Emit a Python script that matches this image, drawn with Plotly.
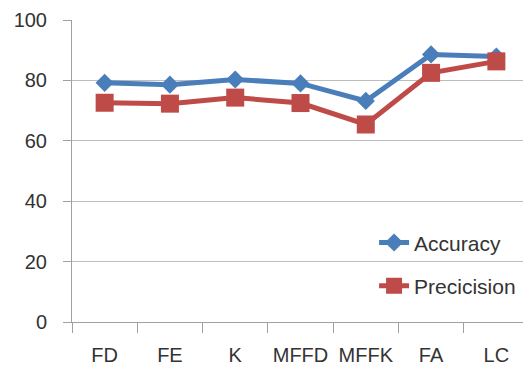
import plotly.graph_objects as go

categories = ["FD", "FE", "K", "MFFD", "MFFK", "FA", "LC"]
accuracy = [79.2, 78.6, 80.3, 79.0, 73.2, 88.6, 87.9]
precision = [72.6, 72.3, 74.3, 72.5, 65.4, 82.5, 86.3]
y_ticks = [0, 20, 40, 60, 80, 100]

FONT = "Liberation Sans"
fig = go.Figure()
fig.add_trace(go.Scatter(
    x=categories, y=accuracy, name="Accuracy", mode="lines+markers",
    line=dict(color="#4A7EBB", width=5),
    marker=dict(symbol="diamond", size=14, color="#4A7EBB"),
    legendgroup="a",
))
fig.add_trace(go.Scatter(
    x=categories, y=precision, name="Precicision", mode="lines+markers",
    line=dict(color="#BE4B48", width=5),
    marker=dict(symbol="square", size=18, color="#BE4B48"),
    legendgroup="b",
))
fig.update_layout(
    width=531, height=369,
    margin=dict(l=64, r=10, t=12, b=55, autoexpand=False),
    paper_bgcolor="white", plot_bgcolor="white",
    font=dict(family=FONT, size=21, color="#333333"),
    legend=dict(x=0.661, y=0.33, xanchor="left", yanchor="top",
                bgcolor="rgba(0,0,0,0)", tracegroupgap=13,
                font=dict(size=21, color="#333333")),
    showlegend=True,
)
fig.update_xaxes(
    type="category", range=[-0.5, 6.5], tickson="boundaries",
    ticks="outside", ticklen=10, tickcolor="#a0a0a0",
    showline=True, linecolor="#a0a0a0", linewidth=1, tickangle=0,
    showgrid=False, tickfont=dict(size=20), ticklabelstandoff=15,
    ticklabeloverflow="allow", automargin=False,
)
fig.update_yaxes(
    range=[0, 100], tickvals=y_ticks, ticks="outside", ticklen=8,
    tickcolor="#a0a0a0", showline=True, linecolor="#a0a0a0",
    showgrid=True, gridcolor="#bcbcbc", gridwidth=1, zeroline=False,
    tickfont=dict(size=20), ticklabelstandoff=12,
    ticklabeloverflow="allow", automargin=False,
)
fig.write_html("out.html")
